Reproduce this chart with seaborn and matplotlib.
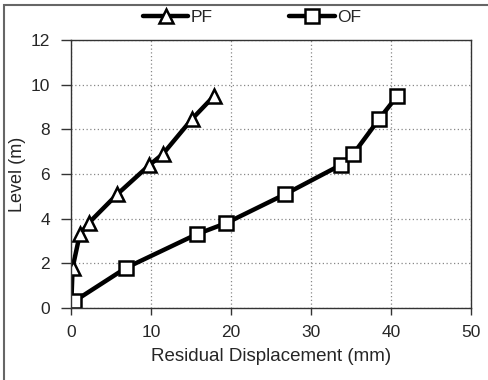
import matplotlib
matplotlib.use("Agg")
import matplotlib.pyplot as plt
import matplotlib.patches as mpatches
import pandas as pd
import seaborn as sns

# values
level = [0.3, 1.8, 3.3, 3.8, 5.1, 6.4, 6.9, 8.45, 9.5]
pf_disp = [0.05, 0.2, 1.1, 2.2, 5.8, 9.8, 11.5, 15.1, 17.9]
of_disp = [0.4, 6.9, 15.7, 19.4, 26.8, 33.7, 35.3, 38.5, 40.8]

df = pd.concat([
    pd.DataFrame({"disp": pf_disp, "level": level, "case": "PF"}),
    pd.DataFrame({"disp": of_disp, "level": level, "case": "OF"}),
])

sns.set_style("ticks")
plt.rcParams["font.family"] = ["Liberation Sans", "DejaVu Sans"]
fs = 12.5

fig = plt.figure(figsize=(4.88, 3.80), dpi=100)
ax = fig.add_axes([0.1455, 0.1895, 0.8195, 0.7052])

mk = dict(markersize=10, markerfacecolor="white", markeredgecolor="black",
          markeredgewidth=1.8)
sns.lineplot(data=df, x="disp", y="level", hue="case", style="case",
             markers={"PF": "^", "OF": "s"}, dashes=False, sort=False,
             palette={"PF": "black", "OF": "black"}, linewidth=3.2,
             ax=ax, legend=False, **mk)

ax.set_xlim(0, 50)
ax.set_ylim(0, 12)
ax.set_xticks(range(0, 51, 10))
ax.set_yticks(range(0, 13, 2))
ax.grid(True, color="#888888", linestyle=(0, (1, 2)), linewidth=0.9)
for s in ax.spines.values():
    s.set_color("#333333")
    s.set_linewidth(1.0)
ax.tick_params(axis="x", direction="out", length=5, width=1, color="#333333",
               labelsize=fs, pad=7)
ax.tick_params(axis="y", direction="out", length=7, width=1, color="#333333",
               labelsize=fs, pad=8)
ax.set_xlabel("Residual Displacement (mm)", fontsize=13.5, labelpad=6)
ax.set_ylabel("Level (m)", fontsize=13)
ax.yaxis.set_label_coords(-0.112, 0.5)

# legend above the plot
h_pf = plt.Line2D([], [], color="black", lw=3.2, marker="^", **mk)
h_of = plt.Line2D([], [], color="black", lw=3.2, marker="s", **mk)
fig.legend([h_pf, h_of], ["PF", "OF"], loc="center", bbox_to_anchor=(0.517, 0.955),
           ncol=2, frameon=False, handlelength=2.6, handletextpad=0.15,
           columnspacing=4.4, fontsize=fs)

# grey frame around the figure
fig.patches.append(mpatches.Rectangle((4 / 488, -0.1), 1.2, 0.1 + 1 - 5 / 380,
                                      transform=fig.transFigure, fill=False,
                                      edgecolor="#666666", linewidth=1.5))

fig.savefig("out.png", dpi=100)
